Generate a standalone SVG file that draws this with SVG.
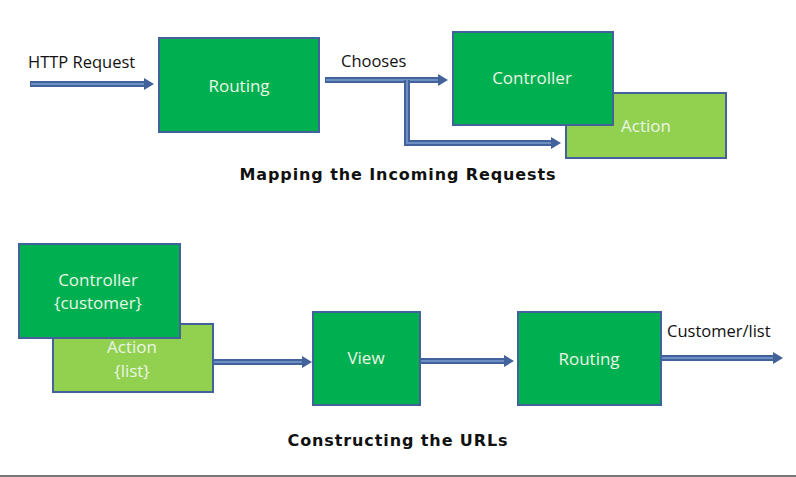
<svg xmlns="http://www.w3.org/2000/svg" width="796" height="477" viewBox="0 0 796 477">
<defs>
<style>
.dk{fill:#00b050;stroke:#41629a;stroke-width:2}
.lt{fill:#92d050;stroke:#41629a;stroke-width:2}
.bt{font-family:"Open Sans","Liberation Sans",sans-serif;font-size:17px;fill:#eaf6e6;text-anchor:middle}
.lb{font-family:"Open Sans","Liberation Sans",sans-serif;font-size:16.5px;fill:#111}
.ti{font-family:"DejaVu Sans",Verdana,sans-serif;font-size:16px;letter-spacing:0.9px;font-weight:bold;fill:#111;text-anchor:middle}
.sh{fill:none;stroke:#41629a;stroke-width:6}
.si{fill:none;stroke:#6d8fc4;stroke-width:2}
.hd{fill:#41629a}
</style>
<g id="ah"><path class="hd" d="M-10,-6 L0,0 L-10,6 Z"/></g>
</defs>
<rect width="796" height="477" fill="#fff"/>
<g id="connectors">
<g>
<line class="sh" x1="30" y1="84" x2="145" y2="84"/><line class="si" x1="31" y1="84" x2="145" y2="84"/>
<use href="#ah" x="154" y="84"/>
</g>
<g>
<line class="sh" x1="325" y1="80" x2="439" y2="80"/><line class="si" x1="326" y1="80" x2="439" y2="80"/>
<use href="#ah" x="448" y="80"/>
<polyline class="sh" points="407,80 407,143 552,143"/><polyline class="si" points="407,80 407,143 552,143"/>
<use href="#ah" x="561" y="143"/>
</g>
<g>
<line class="sh" x1="213" y1="362" x2="303" y2="362"/><line class="si" x1="213" y1="362" x2="303" y2="362"/>
<use href="#ah" x="312" y="362"/>
</g>
<g>
<line class="sh" x1="421" y1="361" x2="505" y2="361"/><line class="si" x1="421" y1="361" x2="505" y2="361"/>
<use href="#ah" x="514" y="361"/>
</g>
<g>
<line class="sh" x1="661" y1="358" x2="774" y2="358"/><line class="si" x1="661" y1="358" x2="774" y2="358"/>
<use href="#ah" x="783" y="358"/>
</g>
</g>
<text class="lb" x="28" y="68">HTTP Request</text>
<text class="lb" x="341" y="67">Chooses</text>
<text class="lb" x="667" y="337">Customer/list</text>
<g id="routing1"><rect class="dk" x="159" y="38" width="160" height="94"/><text class="bt" x="239" y="92">Routing</text></g>
<g id="action1"><rect class="lt" x="566" y="93" width="160" height="65"/><text class="bt" x="646" y="132">Action</text></g>
<g id="controller1"><rect class="dk" x="453" y="32" width="160" height="93"/><text class="bt" x="532" y="84">Controller</text></g>
<text class="ti" x="398" y="180">Mapping the Incoming Requests</text>
<g id="action2"><rect class="lt" x="53" y="324" width="160" height="68"/><text class="bt" x="132" y="353">Action</text><text class="bt" x="132" y="377">{list}</text></g>
<g id="controller2"><rect class="dk" x="19" y="244" width="161" height="94"/><text class="bt" x="98" y="286">Controller</text><text class="bt" x="98" y="309">{customer}</text></g>
<g id="view"><rect class="dk" x="313" y="312" width="107" height="93"/><text class="bt" x="366" y="364">View</text></g>
<g id="routing2"><rect class="dk" x="518" y="312" width="143" height="93"/><text class="bt" x="589" y="365">Routing</text></g>
<text class="ti" x="398" y="446">Constructing the URLs</text>
<line x1="0" y1="476" x2="796" y2="476" stroke="#777" stroke-width="2"/>
</svg>
